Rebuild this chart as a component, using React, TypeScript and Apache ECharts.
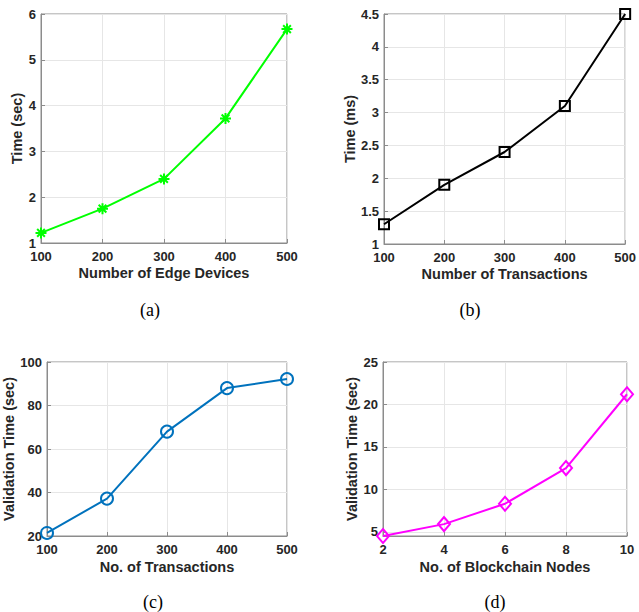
import React, { useEffect, useRef } from "react";
import * as echarts from "echarts";

const edgeDevices = [100, 200, 300, 400, 500];
const timeSecA = [1.22, 1.75, 2.4, 3.72, 5.67];

const transactionsB = [100, 200, 300, 400, 500];
const timeMsB = [1.3, 1.9, 2.4, 3.1, 4.5];

const transactionsC = [100, 200, 300, 400, 500];
const validationC = [21.4, 37.2, 68, 88, 92.2];

const blockchainNodes = [2, 4, 6, 8, 10];
const validationD = [4.5, 5.9, 8.3, 12.5, 21.2];
const yTicksD = [5, 10, 15, 20, 25];

const captions = ["(a)", "(b)", "(c)", "(d)"];

const pairs = (xs: number[], ys: number[]) => xs.map((x, i) => [x, ys[i]]);

const ASTERISK =
  "path://M5,0 L5,10 M0,5 L10,5 M1.5,1.5 L8.5,8.5 M1.5,8.5 L8.5,1.5";

export default function App() {
  const ref = useRef<HTMLDivElement>(null);
  useEffect(() => {
    if (!ref.current) return;
    const chart = echarts.init(ref.current, null, { renderer: "svg" });
    const textColor = "#262626";
    const axisGray = "#8c8c8c";
    const gridGray = "#e6e6e6";
    const font = "Liberation Sans, Arial, sans-serif";
    const grids = [
      { left: 41, top: 14, width: 246, height: 229 },
      { left: 384, top: 14, width: 243, height: 230 },
      { left: 47, top: 362, width: 240, height: 174 },
      { left: 383, top: 362, width: 244, height: 174 },
    ].map((g) => ({ ...g, show: true, borderColor: axisGray, borderWidth: 1, backgroundColor: "#fff" }));

    const tickLabel = (margin: number) => ({
      color: textColor,
      fontFamily: font,
      fontWeight: "bold" as const,
      fontSize: 13,
      margin,
    });
    const common = {
      type: "value" as const,
      axisLine: { show: true, lineStyle: { color: axisGray, width: 1 } },
      axisTick: { show: true, inside: true, length: 4, lineStyle: { color: axisGray } },
      splitLine: { show: true, lineStyle: { color: gridGray, width: 1 } },
      nameLocation: "middle" as const,
      nameTextStyle: { color: textColor, fontFamily: font, fontWeight: "bold" as const, fontSize: 14.5 },
    };
    const xAxis = [
      { ...common, gridIndex: 0, min: 100, max: 500, interval: 100, name: "Number of Edge Devices", nameGap: 22, axisLabel: tickLabel(7) },
      { ...common, gridIndex: 1, min: 100, max: 500, interval: 100, name: "Number of Transactions", nameGap: 22, axisLabel: tickLabel(7) },
      { ...common, gridIndex: 2, min: 100, max: 500, interval: 100, name: "No. of Transactions", nameGap: 23, axisLabel: tickLabel(7) },
      { ...common, gridIndex: 3, min: 2, max: 10, interval: 2, name: "No. of Blockchain Nodes", nameGap: 23, axisLabel: tickLabel(7) },
    ];
    const yAxis = [
      { ...common, gridIndex: 0, min: 1, max: 6, interval: 1, name: "Time (sec)", nameGap: 14, axisLabel: tickLabel(5) },
      { ...common, gridIndex: 1, min: 1, max: 4.5, interval: 0.5, name: "Time (ms)", nameGap: 24, axisLabel: tickLabel(5) },
      { ...common, gridIndex: 2, min: 20, max: 100, interval: 20, name: "Validation Time (sec)", nameGap: 30, axisLabel: tickLabel(5) },
      {
        ...common,
        gridIndex: 3,
        min: 4.5,
        max: 25,
        name: "Validation Time (sec)",
        nameGap: 20,
        axisLabel: { ...tickLabel(5), customValues: yTicksD },
        axisTick: { ...common.axisTick, customValues: yTicksD },
      },
    ];
    const mk = (
      idx: number,
      data: number[][],
      color: string,
      symbol: string,
      symbolSize: number | number[]
    ) => ({
      type: "line" as const,
      xAxisIndex: idx,
      yAxisIndex: idx,
      data,
      symbol,
      symbolSize,
      showSymbol: true,
      lineStyle: { color, width: 2 },
      itemStyle: { color: "none", borderColor: color, borderWidth: 2 },
      emphasis: { disabled: true },
    });
    const series = [
      mk(0, pairs(edgeDevices, timeSecA), "#00ff00", ASTERISK, 11),
      mk(1, pairs(transactionsB, timeMsB), "#000000", "rect", 10),
      mk(2, pairs(transactionsC, validationC), "#0072bd", "circle", 12),
      mk(3, pairs(blockchainNodes, validationD), "#ff00ff", "diamond", [12, 14]),
    ];
    const capPos = [
      [150, 310],
      [470, 310],
      [153, 602],
      [495, 602],
    ];
    chart.setOption({
      animation: false,
      backgroundColor: "#fff",
      grid: grids,
      xAxis,
      yAxis,
      series,
      graphic: captions.map((c, i) => ({
        type: "text",
        x: capPos[i][0],
        y: capPos[i][1],
        style: {
          text: c,
          fill: "#000",
          font: "18px 'Liberation Serif', 'Times New Roman', serif",
          textAlign: "center",
          textVerticalAlign: "middle",
        },
      })),
    });
    return () => chart.dispose();
  }, []);
  return (
    <div
      ref={ref}
      style={{ position: "fixed", left: 0, top: 0, width: 639, height: 612, background: "#fff" }}
    />
  );
}
